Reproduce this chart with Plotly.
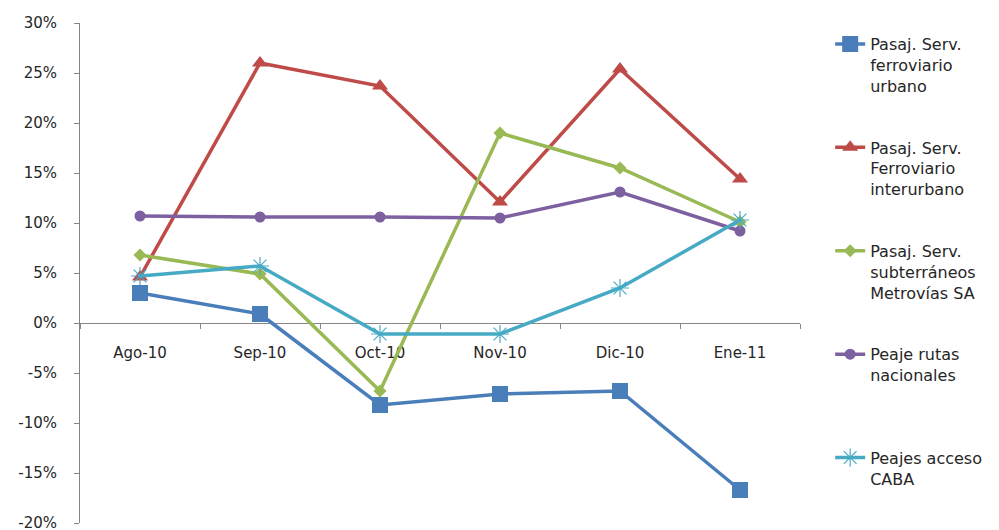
import plotly.graph_objects as go

# Monthly year-on-year variation (%) by transport service
months = ["Ago-10", "Sep-10", "Oct-10", "Nov-10", "Dic-10", "Ene-11"]

ferro_urbano = [3.0, 0.9, -8.2, -7.1, -6.8, -16.7]
ferro_interurbano = [4.6, 26.0, 23.7, 12.1, 25.4, 14.4]
subte_metrovias = [6.8, 4.9, -6.8, 19.0, 15.5, 10.1]
peaje_rutas = [10.7, 10.6, 10.6, 10.5, 13.1, 9.2]
peajes_caba = [4.7, 5.7, -1.1, -1.1, 3.5, 10.3]

y_ticks = [-20, -15, -10, -5, 0, 5, 10, 15, 20, 25, 30]
y_ticktext = ["-20%", "-15%", "-10%", "-5%", "0%", "5%", "10%", "15%",
              "20%", "25%", "30%"]

series = [
    ("Pasaj. Serv.<br>ferroviario<br>urbano", ferro_urbano, "#4A7EBB",
     dict(symbol="square", size=16)),
    ("Pasaj. Serv.<br>Ferroviario<br>interurbano", ferro_interurbano, "#BE4B48",
     dict(symbol="triangle-up", size=14)),
    ("Pasaj. Serv.<br>subterráneos<br>Metrovías SA", subte_metrovias, "#98B954",
     dict(symbol="diamond", size=10)),
    ("Peaje rutas<br>nacionales<br> ", peaje_rutas, "#7D60A0",
     dict(symbol="circle", size=11)),
    ("Peajes acceso<br>CABA<br> ", peajes_caba, "#46AAC5",
     dict(symbol="asterisk-open", size=15, line=dict(width=1.2))),
]

fig = go.Figure()
for i, (name, vals, color, mk) in enumerate(series):
    marker = dict(color=color, **mk)
    if "line" in marker:
        marker["line"]["color"] = color
    fig.add_trace(go.Scatter(
        x=months, y=vals, name=name, mode="lines+markers",
        line=dict(color=color, width=3.5),
        marker=marker,
        legendgroup=f"g{i}",
    ))

font_family = "'DejaVu Sans', sans-serif"

fig.update_layout(
    template="none",
    width=999, height=530,
    margin=dict(l=80, r=199, t=23, b=7),
    paper_bgcolor="white", plot_bgcolor="white",
    font=dict(family=font_family, size=15, color="#262626"),
    showlegend=True,
    legend=dict(
        xref="container", yref="container",
        x=0.831, y=0.949, xanchor="left", yanchor="top",
        font=dict(size=16, family=font_family, color="#262626"),
        tracegroupgap=38, valign="top", maxheight=530,
        bgcolor="rgba(0,0,0,0)",
    ),
    xaxis=dict(
        type="category", range=[-0.5, 5.5],
        anchor="free", position=0.4,
        showline=True, linecolor="#868686", linewidth=1,
        ticks="outside", ticklen=5, tickcolor="#868686",
        tickson="boundaries", showgrid=False, zeroline=False,
        ticklabelstandoff=16, automargin=False,
        layer="below traces",
        tickfont=dict(size=15),
    ),
    yaxis=dict(
        range=[-20, 30], tickvals=y_ticks, ticktext=y_ticktext,
        showline=True, linecolor="#868686", linewidth=1,
        ticks="outside", ticklen=5, tickcolor="#868686",
        showgrid=False, zeroline=False, automargin=False,
        ticklabelstandoff=14, ticklabeloverflow="allow",
        tickfont=dict(size=15),
    ),
)

fig.write_html("out.html")
